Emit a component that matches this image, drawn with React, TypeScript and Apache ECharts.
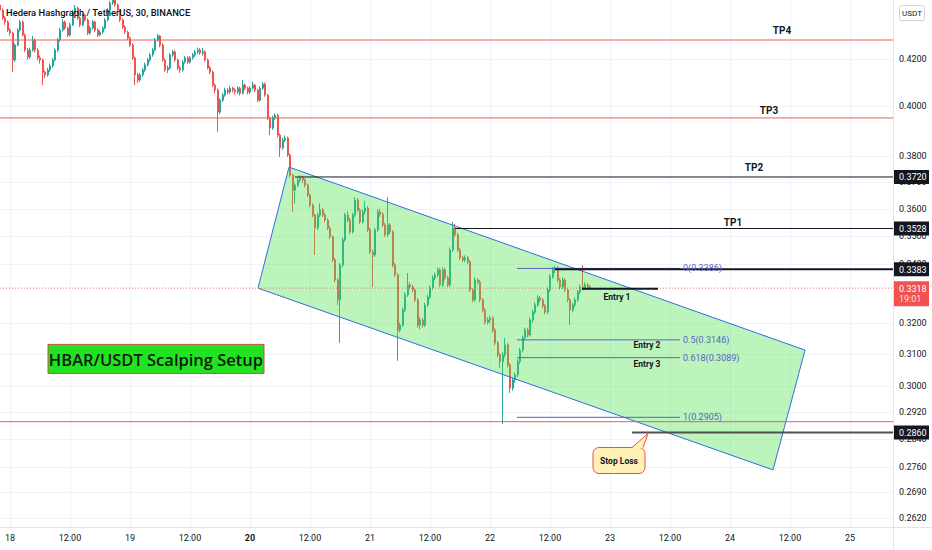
import React, { useEffect, useRef } from 'react';
import * as echarts from 'echarts';

const chartTitle = 'Hedera Hashgraph / TetherUS, 30, BINANCE';
const quoteCurrency = 'USDT';

// hours counted from day 18, 00:00
const firstCandleHour = -2;
const candleStepHours = 0.5;
const hourRange = [-2, 176.6];
const priceRange = [0.2595, 0.4463];

// [open, close, low, high]
const candles: number[][] = [
  [0.4440,0.4417,0.4405,0.4455],[0.4417,0.4381,0.4372,0.4425],[0.4381,0.4363,0.4350,0.4390],[0.4363,0.4327,0.4318,0.4370],
  [0.4327,0.4314,0.4302,0.4335],[0.4314,0.4196,0.4144,0.4320],[0.4196,0.4261,0.4188,0.4268],[0.4261,0.4327,0.4255,0.4335],
  [0.4327,0.4363,0.4320,0.4372],[0.4363,0.4305,0.4298,0.4370],[0.4305,0.4239,0.4230,0.4312],[0.4239,0.4209,0.4198,0.4248],
  [0.4209,0.4239,0.4200,0.4250],[0.4239,0.4283,0.4232,0.4301],[0.4283,0.4239,0.4228,0.4290],[0.4239,0.4205,0.4195,0.4246],
  [0.4205,0.4196,0.4180,0.4215],[0.4196,0.4144,0.4089,0.4202],[0.4144,0.4132,0.4118,0.4150],[0.4132,0.4153,0.4125,0.4162],
  [0.4153,0.4170,0.4145,0.4180],[0.4170,0.4196,0.4163,0.4205],[0.4196,0.4239,0.4190,0.4248],[0.4239,0.4283,0.4230,0.4292],
  [0.4283,0.4327,0.4275,0.4336],[0.4327,0.4363,0.4320,0.4375],[0.4363,0.4336,0.4328,0.4370],[0.4336,0.4305,0.4295,0.4342],
  [0.4305,0.4350,0.4298,0.4360],[0.4350,0.4408,0.4345,0.4418],[0.4408,0.4426,0.4400,0.4440],[0.4426,0.4381,0.4372,0.4432],
  [0.4381,0.4350,0.4340,0.4388],[0.4350,0.4394,0.4344,0.4402],[0.4394,0.4372,0.4364,0.4400],[0.4372,0.4314,0.4305,0.4380],
  [0.4314,0.4336,0.4306,0.4345],[0.4336,0.4363,0.4330,0.4372],[0.4363,0.4327,0.4318,0.4370],[0.4327,0.4305,0.4296,0.4335],
  [0.4305,0.4318,0.4298,0.4326],[0.4318,0.4336,0.4310,0.4344],[0.4336,0.4372,0.4330,0.4380],[0.4372,0.4417,0.4366,0.4425],
  [0.4417,0.4449,0.4410,0.4458],[0.4449,0.4463,0.4440,0.4485],[0.4463,0.4440,0.4432,0.4475],[0.4440,0.4417,0.4408,0.4448],
  [0.4417,0.4372,0.4364,0.4422],[0.4372,0.4341,0.4332,0.4380],[0.4341,0.4318,0.4310,0.4348],[0.4318,0.4292,0.4283,0.4325],
  [0.4292,0.4261,0.4252,0.4298],[0.4261,0.4205,0.4196,0.4268],[0.4205,0.4132,0.4089,0.4210],[0.4132,0.4110,0.4098,0.4140],
  [0.4110,0.4132,0.4102,0.4140],[0.4132,0.4153,0.4125,0.4162],[0.4153,0.4175,0.4145,0.4184],[0.4175,0.4196,0.4168,0.4205],
  [0.4196,0.4218,0.4188,0.4226],[0.4218,0.4239,0.4210,0.4248],[0.4239,0.4283,0.4232,0.4292],[0.4283,0.4301,0.4276,0.4310],
  [0.4301,0.4261,0.4252,0.4306],[0.4261,0.4196,0.4188,0.4268],[0.4196,0.4153,0.4145,0.4202],[0.4153,0.4162,0.4140,0.4172],
  [0.4162,0.4218,0.4155,0.4226],[0.4218,0.4231,0.4210,0.4240],[0.4231,0.4196,0.4188,0.4238],[0.4196,0.4162,0.4154,0.4203],
  [0.4162,0.4153,0.4140,0.4170],[0.4153,0.4187,0.4146,0.4195],[0.4187,0.4205,0.4180,0.4214],[0.4205,0.4187,0.4178,0.4212],
  [0.4187,0.4205,0.4180,0.4213],[0.4205,0.4218,0.4198,0.4226],[0.4218,0.4231,0.4210,0.4240],[0.4231,0.4239,0.4222,0.4250],
  [0.4239,0.4226,0.4218,0.4248],[0.4226,0.4231,0.4215,0.4248],[0.4231,0.4196,0.4188,0.4238],[0.4196,0.4162,0.4155,0.4202],
  [0.4162,0.4144,0.4135,0.4170],[0.4144,0.4089,0.4080,0.4150],[0.4089,0.4068,0.4055,0.4096],[0.4068,0.3977,0.3896,0.4075],
  [0.3977,0.4026,0.3968,0.4034],[0.4026,0.4047,0.4018,0.4056],[0.4047,0.4068,0.4040,0.4078],[0.4068,0.4060,0.4050,0.4076],
  [0.4060,0.4076,0.4052,0.4086],[0.4076,0.4068,0.4058,0.4082],[0.4068,0.4060,0.4050,0.4075],[0.4060,0.4076,0.4052,0.4084],
  [0.4076,0.4055,0.4045,0.4082],[0.4055,0.4089,0.4050,0.4110],[0.4089,0.4076,0.4068,0.4096],[0.4076,0.4060,0.4050,0.4082],
  [0.4060,0.4076,0.4052,0.4084],[0.4076,0.4089,0.4070,0.4102],[0.4089,0.4068,0.4060,0.4094],[0.4068,0.4026,0.4018,0.4074],
  [0.4026,0.4076,0.4020,0.4084],[0.4076,0.4093,0.4070,0.4102],[0.4093,0.4047,0.4040,0.4100],[0.4047,0.3952,0.3944,0.4052],
  [0.3952,0.3912,0.3884,0.3958],[0.3912,0.3952,0.3905,0.3962],[0.3952,0.3964,0.3945,0.3972],[0.3964,0.3884,0.3875,0.3970],
  [0.3884,0.3833,0.3797,0.3890],[0.3833,0.3864,0.3826,0.3872],[0.3864,0.3872,0.3856,0.3882],[0.3872,0.3805,0.3798,0.3878],
  [0.3805,0.3727,0.3718,0.3810],[0.3727,0.3670,0.3589,0.3732],[0.3670,0.3689,0.3620,0.3696],[0.3689,0.3708,0.3682,0.3716],
  [0.3708,0.3716,0.3700,0.3728],[0.3716,0.3708,0.3698,0.3725],[0.3708,0.3689,0.3680,0.3714],[0.3689,0.3651,0.3644,0.3695],
  [0.3651,0.3614,0.3606,0.3656],[0.3614,0.3577,0.3569,0.3620],[0.3577,0.3530,0.3433,0.3582],[0.3530,0.3577,0.3522,0.3586],
  [0.3577,0.3596,0.3570,0.3620],[0.3596,0.3577,0.3570,0.3604],[0.3577,0.3559,0.3550,0.3585],[0.3559,0.3530,0.3522,0.3565],
  [0.3530,0.3498,0.3490,0.3536],[0.3498,0.3416,0.3408,0.3504],[0.3416,0.3346,0.3338,0.3422],[0.3346,0.3278,0.3261,0.3352],
  [0.3278,0.3398,0.3136,0.3405],[0.3398,0.3487,0.3390,0.3495],[0.3487,0.3577,0.3480,0.3585],[0.3577,0.3559,0.3550,0.3590],
  [0.3559,0.3516,0.3508,0.3566],[0.3516,0.3577,0.3510,0.3585],[0.3577,0.3633,0.3570,0.3644],[0.3633,0.3596,0.3588,0.3640],
  [0.3596,0.3552,0.3545,0.3602],[0.3552,0.3589,0.3546,0.3598],[0.3589,0.3603,0.3580,0.3630],[0.3603,0.3523,0.3515,0.3610],
  [0.3523,0.3444,0.3436,0.3530],[0.3444,0.3433,0.3322,0.3452],[0.3433,0.3523,0.3426,0.3530],[0.3523,0.3589,0.3516,0.3598],
  [0.3589,0.3580,0.3570,0.3600],[0.3580,0.3541,0.3534,0.3588],[0.3541,0.3505,0.3498,0.3548],[0.3505,0.3541,0.3498,0.3644],
  [0.3541,0.3516,0.3508,0.3548],[0.3516,0.3398,0.3390,0.3522],[0.3398,0.3364,0.3356,0.3405],[0.3364,0.3178,0.3079,0.3370],
  [0.3178,0.3194,0.3170,0.3202],[0.3194,0.3244,0.3188,0.3252],[0.3244,0.3295,0.3238,0.3303],[0.3295,0.3329,0.3288,0.3370],
  [0.3329,0.3322,0.3314,0.3338],[0.3322,0.3312,0.3304,0.3330],[0.3312,0.3278,0.3270,0.3318],[0.3278,0.3194,0.3186,0.3284],
  [0.3194,0.3211,0.3180,0.3220],[0.3211,0.3194,0.3185,0.3218],[0.3194,0.3261,0.3188,0.3268],[0.3261,0.3288,0.3254,0.3296],
  [0.3288,0.3319,0.3282,0.3327],[0.3319,0.3353,0.3312,0.3362],[0.3353,0.3364,0.3345,0.3372],[0.3364,0.3381,0.3356,0.3390],
  [0.3381,0.3329,0.3322,0.3388],[0.3329,0.3381,0.3322,0.3390],[0.3381,0.3353,0.3345,0.3388],[0.3353,0.3329,0.3322,0.3360],
  [0.3329,0.3451,0.3322,0.3460],[0.3451,0.3530,0.3444,0.3552],[0.3530,0.3505,0.3498,0.3545],[0.3505,0.3451,0.3444,0.3512],
  [0.3451,0.3423,0.3415,0.3458],[0.3423,0.3416,0.3408,0.3430],[0.3416,0.3423,0.3408,0.3432],[0.3423,0.3409,0.3400,0.3430],
  [0.3409,0.3312,0.3304,0.3415],[0.3312,0.3278,0.3270,0.3318],[0.3278,0.3346,0.3272,0.3355],[0.3346,0.3339,0.3330,0.3352],
  [0.3339,0.3278,0.3270,0.3345],[0.3278,0.3244,0.3236,0.3284],[0.3244,0.3204,0.3196,0.3250],[0.3204,0.3211,0.3196,0.3220],
  [0.3211,0.3217,0.3200,0.3226],[0.3217,0.3178,0.3170,0.3224],[0.3178,0.3136,0.3128,0.3184],[0.3136,0.3098,0.3090,0.3142],
  [0.3098,0.3076,0.3057,0.3104],[0.3076,0.3098,0.2885,0.3106],[0.3098,0.3130,0.3090,0.3152],[0.3130,0.3066,0.3058,0.3136],
  [0.3066,0.2994,0.2979,0.3072],[0.2994,0.3019,0.2986,0.3026],[0.3019,0.3035,0.3010,0.3042],[0.3035,0.3076,0.3028,0.3084],
  [0.3076,0.3113,0.3070,0.3120],[0.3113,0.3152,0.3106,0.3160],[0.3152,0.3178,0.3145,0.3186],[0.3178,0.3162,0.3154,0.3185],
  [0.3162,0.3211,0.3156,0.3220],[0.3211,0.3237,0.3204,0.3245],[0.3237,0.3261,0.3230,0.3270],[0.3261,0.3285,0.3254,0.3294],
  [0.3285,0.3278,0.3270,0.3292],[0.3278,0.3258,0.3250,0.3284],[0.3258,0.3237,0.3230,0.3264],[0.3237,0.3312,0.3230,0.3320],
  [0.3312,0.3357,0.3305,0.3366],[0.3357,0.3385,0.3350,0.3392],[0.3385,0.3388,0.3370,0.3395],[0.3388,0.3346,0.3338,0.3394],
  [0.3346,0.3322,0.3314,0.3352],[0.3322,0.3346,0.3315,0.3355],[0.3346,0.3312,0.3305,0.3352],[0.3312,0.3278,0.3270,0.3318],
  [0.3278,0.3244,0.3194,0.3284],[0.3244,0.3261,0.3236,0.3268],[0.3261,0.3278,0.3254,0.3286],[0.3278,0.3305,0.3272,0.3312],
  [0.3305,0.3322,0.3298,0.3330],[0.3322,0.3319,0.3310,0.3398],[0.3319,0.3329,0.3312,0.3338],[0.3329,0.3322,0.3315,0.3336],
  [0.3322,0.3318,0.3312,0.3328],
];

const dayLabels = ['18', '19', '20', '21', '22', '23', '24', '25'];
const boldDayLabel = '20';
const hourTicks = [0, 12, 24, 36, 48, 60, 72, 84, 96, 108, 120, 132, 144, 156, 168];
const priceTicks = [0.262, 0.269, 0.276, 0.284, 0.292, 0.3, 0.31, 0.32, 0.34, 0.35, 0.36, 0.37, 0.38, 0.4, 0.42];

// drawings (hour, price)
const channelCorners = [[55.8, 0.3758], [159, 0.3113], [152.6, 0.2752], [49.6, 0.3318]];
const redLevels = [
  { price: 0.4283, fromHour: -2, toHour: 176.6 },
  { price: 0.3953, fromHour: -2, toHour: 176.6 },
  { price: 0.2892, fromHour: -2, toHour: 176.6 },
];
const targetLevels = [
  { price: 0.372, fromHour: 57, toHour: 176.6 },
  { price: 0.3528, fromHour: 89, toHour: 176.6 },
];
const resistanceLevels = [{ price: 0.3383, fromHour: 109, toHour: 176.6 }];
const entryLevels = [{ price: 0.3316, fromHour: 114.4, toHour: 129.6 }];
const stopLevels = [{ price: 0.286, fromHour: 124.4, toHour: 176.6 }];
const currentPrice = 0.3318;
const countdown = '19:01';
const fibFromHour = 101.4;
const fibToHour = 134;
const fibLabelHour = 134.6;
const fibLevels = [
  { ratio: '0', price: 0.3386 },
  { ratio: '0.5', price: 0.3146 },
  { ratio: '0.618', price: 0.3089 },
  { ratio: '1', price: 0.2905 },
];
const targetLabels = [
  { text: 'TP4', hour: 154.4, price: 0.4323 },
  { text: 'TP3', hour: 151.8, price: 0.3985 },
  { text: 'TP2', hour: 148.8, price: 0.3755 },
  { text: 'TP1', hour: 144.6, price: 0.3548 },
];
const entryLabels = [
  { text: 'Entry 1', hour: 121.4, price: 0.3288 },
  { text: 'Entry 2', hour: 127.4, price: 0.313 },
  { text: 'Entry 3', hour: 127.4, price: 0.3069 },
];
const axisTagPrices = [0.372, 0.3528, 0.3383, 0.286];
const setupLabels = [{ text: 'HBAR/USDT Scalping Setup', hour: 29.2, price: 0.3085 }];
const stopLabels = [{ text: 'Stop Loss', hour: 127.6, price: 0.2857 }];

const FONT = 'Roboto';
const TXT = '#131722';

function levelSeries(items: { price: number; fromHour: number; toHour: number }[], style: any, z: number) {
  return {
    type: 'custom',
    silent: true,
    z,
    data: items.map((it) => [it.fromHour, it.toHour, Math.log(it.price)]),
    encode: { x: [0, 1], y: 2 },
    renderItem: (params: any, api: any) => {
      const a = api.coord([api.value(0), api.value(2)]);
      const b = api.coord([api.value(1), api.value(2)]);
      return { type: 'line', shape: { x1: a[0], y1: a[1], x2: b[0], y2: b[1] }, style };
    },
  };
}

function textSeries(items: { text: string; hour: number; price: number }[], style: any, z: number) {
  return {
    type: 'custom',
    silent: true,
    z,
    data: items.map((it) => [it.hour, Math.log(it.price)]),
    encode: { x: 0, y: 1 },
    renderItem: (params: any, api: any) => {
      const p = api.coord([api.value(0), api.value(1)]);
      return { type: 'text', x: p[0], y: p[1], style: { text: items[params.dataIndex].text, ...style } };
    },
  };
}

export default function App() {
  const ref = useRef<HTMLDivElement>(null);

  useEffect(() => {
    document.body.style.margin = '0';
    if (!ref.current) return;
    const chart = echarts.init(ref.current, undefined, { renderer: 'svg' });

    const candleData = candles.map((c, i) => [
      firstCandleHour + i * candleStepHours,
      Math.log(c[0]),
      Math.log(c[1]),
      Math.log(c[2]),
      Math.log(c[3]),
    ]);

    const option: any = {
      animation: false,
      title: {
        text: chartTitle,
        left: 6,
        top: 8,
        padding: 0,
        textStyle: { fontFamily: FONT, fontSize: 9.4, fontWeight: 500, color: '#0c0f17' },
      },
      grid: { left: 0, right: 39, top: 0, bottom: 23, containLabel: false, outerBoundsMode: 'none' },
      xAxis: {
        type: 'value',
        min: hourRange[0],
        max: hourRange[1],
        axisLine: { show: false },
        axisTick: { show: false },
        splitLine: { show: false },
        axisLabel: {
          customValues: hourTicks,
          margin: 6,
          color: TXT,
          fontFamily: FONT,
          fontSize: 9,
          formatter: (v: number) => {
            if (v % 24 === 0) {
              const d = dayLabels[v / 24];
              return d === boldDayLabel ? '{b|' + d + '}' : d;
            }
            return '12:00';
          },
          rich: { b: { fontWeight: 'bold', fontFamily: FONT, fontSize: 9, color: TXT } },
        },
      },
      yAxis: {
        type: 'value',
        position: 'right',
        min: Math.log(priceRange[0]),
        max: Math.log(priceRange[1]),
        axisLine: { show: false },
        axisTick: { show: false },
        splitLine: { show: false },
        axisLabel: {
          customValues: priceTicks.map((p) => Math.log(p)),
          margin: 6,
          color: TXT,
          fontFamily: FONT,
          fontSize: 9,
          formatter: (v: number) => Math.exp(v).toFixed(4),
        },
      },
      graphic: [
        { type: 'line', z: 100, shape: { x1: 893.5, y1: 0, x2: 893.5, y2: 550 }, style: { stroke: '#e0e3eb', lineWidth: 1 } },
        { type: 'line', z: 100, shape: { x1: 0, y1: 527.5, x2: 932, y2: 527.5 }, style: { stroke: '#e0e3eb', lineWidth: 1 } },
        { type: 'rect', z: 100, shape: { x: 899.5, y: 5.5, width: 25, height: 15, r: 2 }, style: { fill: '#fff', stroke: '#d1d4dc', lineWidth: 1 } },
        { type: 'text', z: 101, x: 912, y: 13.5, style: { text: quoteCurrency, fill: TXT, fontFamily: FONT, fontSize: 8, align: 'center', verticalAlign: 'middle' } },
      ],
      series: [
        // grid lines
        {
          type: 'custom',
          silent: true,
          z: 1,
          data: priceTicks.map((p) => [hourRange[0], Math.log(p)]),
          encode: { x: 0, y: 1 },
          renderItem: (params: any, api: any) => {
            const cs = params.coordSys;
            const y = Math.round(api.coord([api.value(0), api.value(1)])[1]) + 0.5;
            return { type: 'line', shape: { x1: cs.x, y1: y, x2: cs.x + cs.width, y2: y }, style: { stroke: '#f0f3fa', lineWidth: 1 } };
          },
        },
        {
          type: 'custom',
          silent: true,
          z: 1,
          data: hourTicks.map((h) => [h, Math.log(priceRange[0])]),
          encode: { x: 0, y: 1 },
          renderItem: (params: any, api: any) => {
            const cs = params.coordSys;
            const x = Math.round(api.coord([api.value(0), api.value(1)])[0]) + 0.5;
            return { type: 'line', shape: { x1: x, y1: cs.y, x2: x, y2: cs.y + cs.height }, style: { stroke: '#f0f3fa', lineWidth: 1 } };
          },
        },
        {
          type: 'candlestick',
          z: 2,
          barWidth: 1.5,
          data: candleData,
          encode: { x: 0, y: [1, 2, 3, 4] },
          itemStyle: {
            color: '#26a69a',
            color0: '#ef5350',
            borderColor: '#26a69a',
            borderColor0: '#ef5350',
            borderWidth: 1,
          },
        },
        // channel
        {
          type: 'custom',
          silent: true,
          z: 3,
          data: channelCorners.map((c) => [c[0], Math.log(c[1])]),
          encode: { x: 0, y: 1 },
          renderItem: (params: any, api: any) => {
            if (params.dataIndex !== 0) return { type: 'group', children: [] };
            const pts = channelCorners.map((c) => api.coord([c[0], Math.log(c[1])]));
            return {
              type: 'polygon',
              shape: { points: pts },
              style: { fill: 'rgba(70,225,70,0.36)', stroke: '#2f6fe0', lineWidth: 1 },
            };
          },
        },
        levelSeries(redLevels, { stroke: '#ee5a58', lineWidth: 1 }, 4),
        levelSeries(
          [{ price: currentPrice, fromHour: hourRange[0], toHour: hourRange[1] }],
          { stroke: '#ef6a68', lineWidth: 1, lineDash: [1, 2] },
          4,
        ),
        levelSeries(
          fibLevels.map((f) => ({ price: f.price, fromHour: fibFromHour, toHour: fibToHour })),
          { stroke: '#5b5fc7', lineWidth: 1 },
          4,
        ),
        levelSeries(targetLevels, { stroke: '#131722', lineWidth: 1 }, 5),
        levelSeries(resistanceLevels, { stroke: '#131722', lineWidth: 2 }, 5),
        levelSeries(entryLevels, { stroke: '#131722', lineWidth: 2 }, 5),
        levelSeries(stopLevels, { stroke: '#505050', lineWidth: 2 }, 5),
        textSeries(
          fibLevels.map((f) => ({ text: f.ratio + '(' + f.price.toFixed(4) + ')', hour: fibLabelHour, price: f.price })),
          { fill: '#5b5fc7', fontFamily: FONT, fontSize: 9, align: 'left', verticalAlign: 'middle' },
          6,
        ),
        textSeries(targetLabels, { fill: TXT, fontFamily: FONT, fontSize: 10, fontWeight: 'bold', align: 'center', verticalAlign: 'middle' }, 6),
        textSeries(entryLabels, { fill: TXT, fontFamily: FONT, fontSize: 8.5, fontWeight: 'bold', align: 'center', verticalAlign: 'middle' }, 6),
        // setup label box
        {
          type: 'custom',
          silent: true,
          z: 7,
          data: setupLabels.map((s) => [s.hour, Math.log(s.price)]),
          encode: { x: 0, y: 1 },
          renderItem: (params: any, api: any) => {
            const p = api.coord([api.value(0), api.value(1)]);
            return {
              type: 'group',
              children: [
                { type: 'rect', shape: { x: p[0] - 108, y: p[1] - 14.5, width: 216, height: 29 }, style: { fill: '#22e322', stroke: '#c4553c', lineWidth: 1 } },
                {
                  type: 'text',
                  x: p[0],
                  y: p[1] + 0.5,
                  style: { text: setupLabels[params.dataIndex].text, fill: '#0e1a0e', fontFamily: 'Open Sans', fontSize: 16.5, fontWeight: 600, align: 'center', verticalAlign: 'middle' },
                },
              ],
            };
          },
        },
        // stop loss callout
        {
          type: 'custom',
          silent: true,
          z: 7,
          data: stopLabels.map((s) => [s.hour, Math.log(s.price)]),
          encode: { x: 0, y: 1 },
          renderItem: (params: any, api: any) => {
            const p = api.coord([api.value(0), api.value(1)]);
            const ax = p[0];
            const ay = p[1];
            const fill = '#fff1b8';
            const stroke = '#e5543d';
            return {
              type: 'group',
              children: [
                { type: 'rect', shape: { x: ax - 55, y: ay + 14, width: 52, height: 26, r: 6 }, style: { fill, stroke, lineWidth: 1 } },
                { type: 'polygon', shape: { points: [[ax - 16, ay + 14.6], [ax, ay], [ax - 5, ay + 14.6]] }, style: { fill } },
                { type: 'polyline', shape: { points: [[ax - 16, ay + 14], [ax, ay], [ax - 5, ay + 14]] }, style: { stroke, lineWidth: 1, fill: 'none' } },
                {
                  type: 'text',
                  x: ax - 29,
                  y: ay + 27.5,
                  style: { text: stopLabels[params.dataIndex].text, fill: TXT, fontFamily: FONT, fontSize: 8.5, fontWeight: 'bold', align: 'center', verticalAlign: 'middle' },
                },
              ],
            };
          },
        },
        // price tags on the scale
        {
          type: 'custom',
          silent: true,
          z: 8,
          data: axisTagPrices.map((p) => [hourRange[1], Math.log(p)]),
          encode: { x: 0, y: 1 },
          renderItem: (params: any, api: any) => {
            const cs = params.coordSys;
            const x = cs.x + cs.width;
            const y = api.coord([api.value(0), api.value(1)])[1];
            return {
              type: 'group',
              children: [
                { type: 'rect', shape: { x: x, y: y - 7, width: 36, height: 14 }, style: { fill: '#131722' } },
                {
                  type: 'text',
                  x: x + 6,
                  y: y + 0.5,
                  style: { text: axisTagPrices[params.dataIndex].toFixed(4), fill: '#fff', fontFamily: FONT, fontSize: 9, align: 'left', verticalAlign: 'middle' },
                },
              ],
            };
          },
        },
        {
          type: 'custom',
          silent: true,
          z: 8,
          data: [[hourRange[1], Math.log(currentPrice)]],
          encode: { x: 0, y: 1 },
          renderItem: (params: any, api: any) => {
            const cs = params.coordSys;
            const x = cs.x + cs.width;
            const y = api.coord([api.value(0), api.value(1)])[1];
            return {
              type: 'group',
              children: [
                { type: 'rect', shape: { x: x, y: y - 7, width: 36, height: 25 }, style: { fill: '#f0524f' } },
                { type: 'text', x: x + 6, y: y + 0.5, style: { text: currentPrice.toFixed(4), fill: '#fff', fontFamily: FONT, fontSize: 9, align: 'left', verticalAlign: 'middle' } },
                { type: 'text', x: x + 6, y: y + 11, style: { text: countdown, fill: 'rgba(255,255,255,0.85)', fontFamily: FONT, fontSize: 9, align: 'left', verticalAlign: 'middle' } },
              ],
            };
          },
        },
      ],
    };

    chart.setOption(option);
    return () => chart.dispose();
  }, []);

  return <div ref={ref} style={{ width: 932, height: 550 }} />;
}
